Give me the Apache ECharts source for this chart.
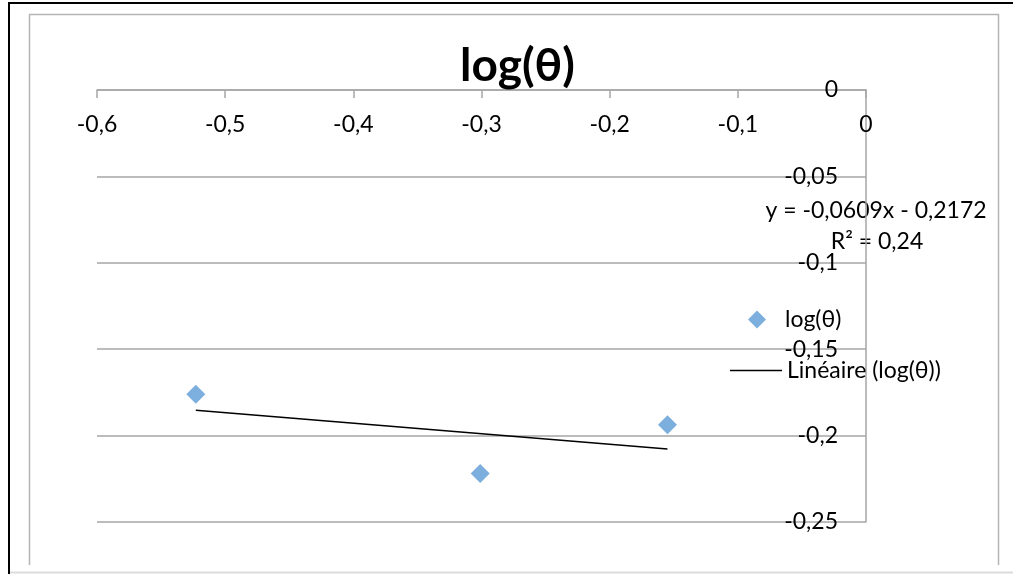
<!DOCTYPE html>
<html>
<head>
<meta charset="utf-8">
<script src="https://cdn.jsdelivr.net/npm/echarts@6/dist/echarts.min.js"></script>
<style>
html,body{margin:0;padding:0;background:#fff;}
#chart{width:1013px;height:574px;}
</style>
</head>
<body>
<div id="chart"></div>
<script>
const titleText = 'log(θ)';
const seriesName = 'log(θ)';
const trendName = 'Linéaire (log(θ))';
const xValues = [-0.5229, -0.3010, -0.1549];
const yValues = [-0.1761, -0.2220, -0.1937];
const trendSlope = -0.0609;
const trendIntercept = -0.2172;
const equationText = 'y = -0,0609x - 0,2172';
const r2Text = 'R² = 0,24';

const fmt = v => String(Math.round(v * 1000) / 1000).replace('.', ',');
const points = xValues.map((x, i) => [x, yValues[i]]);
const xMin = Math.min(...xValues), xMax = Math.max(...xValues);
const trend = [[xMin, trendSlope * xMin + trendIntercept], [xMax, trendSlope * xMax + trendIntercept]];

const FONT = 'Lato';
const chart = echarts.init(document.getElementById('chart'));
chart.setOption({
  animation: false,
  backgroundColor: '#fff',
  textStyle: { fontFamily: FONT },
  title: {
    text: titleText,
    left: 455,
    top: 38,
    textStyle: { fontFamily: FONT, fontWeight: 'bold', fontSize: 46, color: '#000' }
  },
  grid: { left: 97, right: 147, top: 90, bottom: 52 },
  xAxis: {
    type: 'value',
    position: 'top',
    min: -0.6, max: 0, interval: 0.1,
    axisLine: { show: true, onZero: false, lineStyle: { color: '#a6a6a6', width: 1.5 } },
    axisTick: { show: true, inside: true, length: 8, lineStyle: { color: '#a6a6a6', width: 1.5 } },
    axisLabel: { inside: true, margin: 23, fontSize: 23, color: '#000', fontFamily: FONT, formatter: fmt },
    splitLine: { show: false }
  },
  yAxis: {
    type: 'value',
    position: 'right',
    min: -0.25, max: 0, interval: 0.05,
    axisLine: { show: true, onZero: false, lineStyle: { color: '#a6a6a6', width: 1.5 } },
    axisTick: { show: false },
    axisLabel: { inside: true, margin: 28, fontSize: 23, color: '#000', fontFamily: FONT, formatter: fmt },
    splitLine: { show: true, lineStyle: { color: '#a6a6a6', width: 1.5 } }
  },
  legend: [
    {
      data: [{ name: seriesName, icon: 'diamond' }],
      left: 743, top: 303,
      itemWidth: 18, itemHeight: 18, itemGap: 0,
      textStyle: { fontSize: 23, color: '#000', fontFamily: FONT, padding: [0, 0, 0, 14] }
    },
    {
      data: [{ name: trendName, icon: 'rect', itemStyle: { color: '#000' } }],
      left: 725, top: 354,
      itemWidth: 52, itemHeight: 1.5, itemGap: 0,
      textStyle: { fontSize: 23, color: '#000', fontFamily: FONT }
    }
  ],
  graphic: [
    { type: 'rect', shape: { x: 8, y: 2, width: 2, height: 572 }, style: { fill: '#000' }, silent: true },
    { type: 'rect', shape: { x: 8, y: 2, width: 1005, height: 2 }, style: { fill: '#000' }, silent: true },
    { type: 'line', shape: { x1: 29.5, y1: 14, x2: 29.5, y2: 565 }, style: { stroke: '#b4b4b4', lineWidth: 1.5 }, silent: true },
    { type: 'line', shape: { x1: 29.5, y1: 14.5, x2: 998.5, y2: 14.5 }, style: { stroke: '#b4b4b4', lineWidth: 1.5 }, silent: true },
    { type: 'line', shape: { x1: 998.5, y1: 14, x2: 998.5, y2: 565 }, style: { stroke: '#b4b4b4', lineWidth: 1.5 }, silent: true },
    { type: 'line', shape: { x1: 10, y1: 572.5, x2: 1013, y2: 572.5 }, style: { stroke: '#dcdcdc', lineWidth: 2 }, silent: true },
    { type: 'text', x: 876, y: 211, style: { text: equationText, font: '23px Lato', fill: '#000', textAlign: 'center', textVerticalAlign: 'middle' }, silent: true },
    { type: 'text', x: 877, y: 242, style: { text: r2Text, font: '23px Lato', fill: '#000', textAlign: 'center', textVerticalAlign: 'middle' }, silent: true }
  ],
  series: [
    {
      name: seriesName,
      type: 'scatter',
      symbol: 'diamond',
      symbolSize: 19,
      itemStyle: { color: '#5b9bd5' },
      data: points,
      z: 3
    },
    {
      name: trendName,
      type: 'line',
      symbol: 'none',
      showSymbol: false,
      lineStyle: { color: '#000', width: 1.5 },
      itemStyle: { color: '#000' },
      data: trend,
      z: 2
    }
  ]
});
</script>
</body>
</html>
